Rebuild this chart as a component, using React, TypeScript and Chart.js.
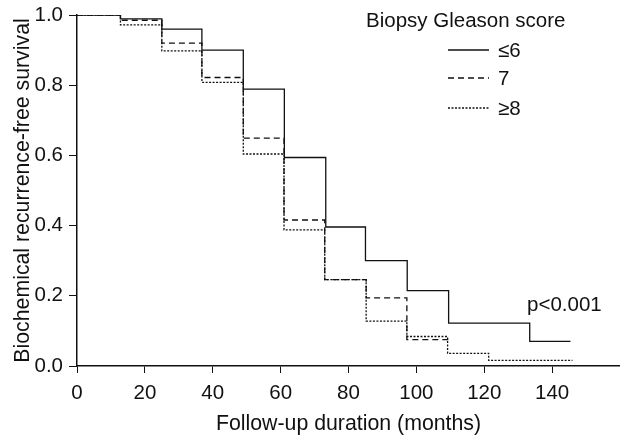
import React, { useEffect, useRef } from "react";
import { Chart, registerables } from "chart.js";

Chart.register(...registerables);

// Kaplan–Meier step data (month, survival after that month)
const times6 = [0, 12.8, 25, 36.8, 49, 61.1, 73.3, 85, 97.3, 109.5, 133.4, 145.4];
const surv6 = [1.0, 0.989, 0.96, 0.9, 0.789, 0.594, 0.396, 0.3, 0.215, 0.122, 0.07, 0.07];

const times7 = [0, 12.8, 25, 36.8, 49, 61, 73, 85.2, 97.2, 109.4];
const surv7 = [1.0, 0.985, 0.92, 0.822, 0.649, 0.416, 0.246, 0.194, 0.075, 0.075];

const times8 = [0, 12.8, 25, 36.8, 49, 61, 73, 85.2, 97.2, 109.2, 121.3, 146];
const surv8 = [1.0, 0.972, 0.898, 0.808, 0.604, 0.388, 0.246, 0.128, 0.084, 0.036, 0.016, 0.016];

const seriesLabels = ["≤6", "7", "≥8"];
const legendTitle = "Biopsy Gleason score";
const xTitle = "Follow-up duration (months)";
const yTitle = "Biochemical recurrence-free survival";
const pValueText = "p<0.001";
const pValuePos = { x: 132.6, y: 0.157 };

const xMin = 0;
const xMax = 160;
const xStep = 20;
const yMin = 0;
const yMax = 1;
const yStep = 0.2;

const FONT = "'Liberation Sans', Arial, Helvetica, sans-serif";
const dashes = [[], [6, 4], [2, 1.5]];

function toPoints(t: number[], s: number[]) {
  return t.map((x, i) => ({ x, y: s[i] }));
}

const overlayPlugin = {
  id: "overlay",
  afterDraw(chart: any) {
    const ctx = chart.ctx;
    const xs = chart.scales.x;
    const ys = chart.scales.y;
    ctx.save();
    ctx.fillStyle = "#111";
    ctx.font = `20.5px ${FONT}`;
    ctx.textAlign = "left";
    ctx.textBaseline = "alphabetic";
    // p-value
    ctx.fillText(pValueText, xs.getPixelForValue(pValuePos.x), ys.getPixelForValue(pValuePos.y));
    // legend
    ctx.fillText(legendTitle, 366, 27);
    const rowsY = [50, 78, 108];
    seriesLabels.forEach((lab, i) => {
      ctx.beginPath();
      ctx.setLineDash(dashes[i]);
      ctx.lineWidth = 1.3;
      ctx.strokeStyle = "#111";
      ctx.moveTo(448, rowsY[i]);
      ctx.lineTo(489, rowsY[i]);
      ctx.stroke();
      ctx.setLineDash([]);
      ctx.fillText(lab, 498, rowsY[i] + 7);
    });
    ctx.restore();
  },
};

export default function App() {
  const ref = useRef<HTMLCanvasElement | null>(null);
  useEffect(() => {
    if (!ref.current) return;
    const chart = new Chart(ref.current, {
      type: "line",
      data: {
        datasets: [
          { label: seriesLabels[0], data: toPoints(times6, surv6), borderDash: dashes[0] },
          { label: seriesLabels[1], data: toPoints(times7, surv7), borderDash: dashes[1] },
          { label: seriesLabels[2], data: toPoints(times8, surv8), borderDash: dashes[2] },
        ].map((d) => ({
          ...d,
          stepped: "before" as const,
          borderColor: "#111",
          borderWidth: 1.3,
          pointRadius: 0,
          fill: false,
        })),
      },
      plugins: [overlayPlugin],
      options: {
        animation: false,
        responsive: false,
        maintainAspectRatio: false,
        layout: { padding: { top: 15, right: 0, left: 0, bottom: 0 } },
        plugins: { legend: { display: false }, tooltip: { enabled: false } },
        scales: {
          x: {
            type: "linear",
            min: xMin,
            max: xMax,
            ticks: {
              stepSize: xStep,
              color: "#111",
              font: { family: FONT, size: 20.5 },
              padding: 8,
              maxRotation: 0,
              callback: (v: any) => (Number(v) >= xMax ? "" : String(v)),
            },
            grid: { drawOnChartArea: false, drawTicks: true, tickLength: 7, color: "#111", lineWidth: 1 },
            border: { display: true, color: "#111", width: 1.5 },
            title: {
              display: true,
              text: xTitle,
              color: "#111",
              font: { family: FONT, size: 21.3 },
              padding: { top: 0, bottom: 0 },
            },
            afterFit: (s: any) => {
              s.height = 71;
              s.paddingLeft = 0;
              s.paddingRight = 0;
            },
          },
          y: {
            type: "linear",
            min: yMin,
            max: yMax,
            ticks: {
              stepSize: yStep,
              color: "#111",
              font: { family: FONT, size: 20.5 },
              padding: 6,
              callback: (v: any) => Number(v).toFixed(1),
            },
            grid: { drawOnChartArea: false, drawTicks: true, tickLength: 8, color: "#111", lineWidth: 1 },
            border: { display: true, color: "#111", width: 1.5 },
            title: {
              display: true,
              text: yTitle,
              color: "#111",
              font: { family: FONT, size: 21.3 },
              padding: { top: 10, bottom: 0 },
            },
            afterFit: (s: any) => {
              s.width = 77;
              s.paddingTop = 0;
              s.paddingBottom = 0;
            },
          },
        },
      },
    } as any);
    return () => chart.destroy();
  }, []);
  return (
    <div style={{ position: "fixed", left: 0, top: 0, width: 620, height: 437, background: "#fff" }}>
      <canvas ref={ref} width={620} height={437} style={{ width: 620, height: 437, display: "block" }} />
    </div>
  );
}
